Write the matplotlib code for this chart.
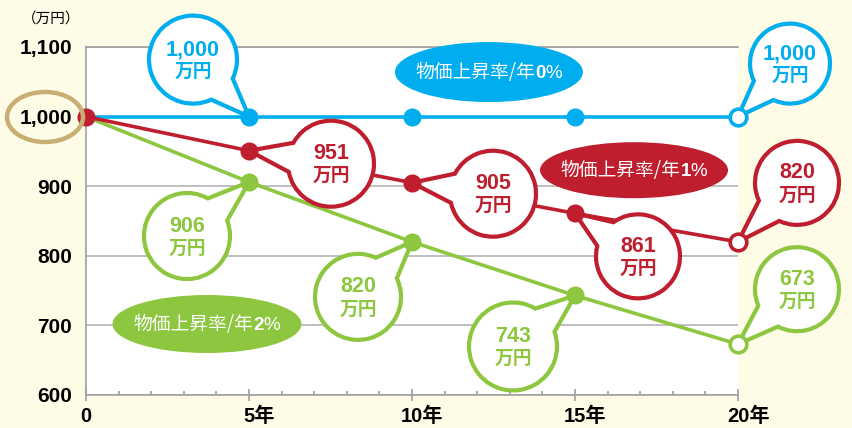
import numpy as np
import matplotlib
matplotlib.use("Agg")
import matplotlib.pyplot as plt
from matplotlib.path import Path
from matplotlib.patches import PathPatch, Ellipse
import matplotlib.transforms as mtransforms
from matplotlib.offsetbox import TextArea, HPacker, AnnotationBbox

# ---------------- data ----------------
years = [0, 5, 10, 15, 20]
xtick_labels = ["0", "5年", "10年", "15年", "20年"]
yticks = [600, 700, 800, 900, 1000, 1100]
ytick_labels = ["600", "700", "800", "900", "1,000", "1,100"]
rate0 = [1000, 1000, 1000, 1000, 1000]
rate1 = [1000, 951, 905, 861, 820]
rate2 = [1000, 906, 820, 743, 673]
label0 = ["物価上昇率/年", "0", "%"]
label1 = ["物価上昇率/年", "1", "%"]
label2 = ["物価上昇率/年", "2", "%"]
callout_text0 = {5: "1,000", 20: "1,000"}
callout_text1 = {5: "951", 10: "905", 15: "861", 20: "820"}
callout_text2 = {5: "906", 10: "820", 15: "743", 20: "673"}
unit = "万円"

# ---------------- style ----------------
BG = "#fefce6"
BLUE = "#00aeef"
RED = "#be1e2d"
GREEN = "#8dc63f"
TAN = "#c9ae73"
GRAY = "#a0a0a0"
FAM = ["Liberation Sans", "Noto Sans CJK JP", "DejaVu Sans"]
CJK = ["Noto Sans CJK JP", "DejaVu Sans"]
plt.rcParams["font.family"] = FAM

W, H = 852, 428
fig = plt.figure(figsize=(W / 100, H / 100), dpi=100, facecolor=BG)
ax = fig.add_axes([86 / W, 33 / H, 652 / W, 348 / H])
ax.set_facecolor("white")
ax.set_xlim(0, 20)
ax.set_ylim(600, 1100)

ax.spines["right"].set_visible(False)
for s in ["left", "bottom", "top"]:
    ax.spines[s].set_color(GRAY)
    ax.spines[s].set_linewidth(1.2)

ax.set_yticks(yticks)
ax.set_yticklabels(ytick_labels, fontsize=15, fontweight="bold")
ax.tick_params(axis="y", length=0, pad=10)
ax.set_xticks(years)
ax.set_xticklabels(xtick_labels, fontsize=14.5, fontweight="bold")
ax.set_xticks([y for y in range(1, 20) if y % 5], minor=True)
ax.tick_params(axis="x", which="major", direction="inout", length=8, width=1.2, color=GRAY, pad=4.5)
ax.tick_params(axis="x", which="minor", direction="in", length=3, width=1.2, color=GRAY)
for i, lab in enumerate(ax.get_xticklabels()):
    if i > 0:
        lab.set_transform(lab.get_transform() + mtransforms.ScaledTranslation(0.10, 0, fig.dpi_scale_trans))
ax.yaxis.grid(True, color="#b4b4b4", lw=1.2)
ax.set_axisbelow(True)

# ---------------- lines ----------------
series = [(rate0, BLUE), (rate2, GREEN), (rate1, RED)]
for vals, c in series:
    ax.plot(years, vals, color=c, lw=2.6, zorder=3, clip_on=False)

# ---------------- label ellipses ----------------
px_x = 652 / 20.0
px_y = 348 / 500.0


def label_ellipse(xc, yc, w, h, parts, color):
    e = Ellipse((xc, yc), w / px_x, h / px_y, facecolor=color, edgecolor="none", zorder=4, clip_on=False)
    ax.add_patch(e)
    kids = [
        TextArea(parts[0], textprops=dict(color="white", fontsize=13.5, family=CJK)),
        TextArea(parts[1], textprops=dict(color="white", fontsize=13.5, family=FAM, fontweight="bold")),
        TextArea(parts[2], textprops=dict(color="white", fontsize=13.5, family=FAM)),
    ]
    pack = HPacker(children=kids, pad=0, sep=0, align="baseline")
    ab = AnnotationBbox(pack, (xc, yc), frameon=False, box_alignment=(0.5, 0.5), zorder=5,
                        annotation_clip=False)
    ax.add_artist(ab)


label_ellipse(12.36, 1064, 188, 60, label0, BLUE)
label_ellipse(16.81, 923, 188, 56, label1, RED)
label_ellipse(3.71, 702, 189, 58, label2, GREEN)


# ---------------- callouts ----------------
def callout(x, y, dx, dy, r, color, num, spread=20):
    theta = np.degrees(np.arctan2(-dy, -dx))
    arc = Path.arc(theta + spread, theta - spread + 360)
    verts = list(arc.vertices * r + np.array([dx, dy]))
    codes = list(arc.codes)
    verts += [(0, 0), (0, 0)]
    codes += [Path.LINETO, Path.CLOSEPOLY]
    verts = np.array(verts) / 100.0
    path = Path(verts, codes)
    trans = fig.dpi_scale_trans + mtransforms.ScaledTranslation(x, y, ax.transData)
    ax.add_patch(PathPatch(path, transform=trans, facecolor="white", edgecolor=color,
                           lw=3.0, zorder=6, clip_on=False, joinstyle="miter"))
    ax.annotate(num, (x, y), xytext=(dx * 0.72, (dy + 10) * 0.72), textcoords="offset points",
                ha="center", va="center", fontsize=15.5, fontweight="bold", color=color,
                zorder=7, annotation_clip=False)
    ax.annotate(unit, (x, y), xytext=(dx * 0.72, (dy - 12) * 0.72), textcoords="offset points",
                ha="center", va="center", fontsize=13.5, fontweight="bold", color=color,
                family=CJK, zorder=7, annotation_clip=False)


geom0 = {5: (-56, 57, 44), 20: (52, 53, 40)}
geom1 = {5: (82, -13, 43), 10: (81, -11, 43), 15: (63, -43, 42), 20: (59, 59, 42)}
geom2 = {5: (-62, -54, 43), 10: (-54, -55, 43), 15: (-62, -51, 44), 20: (59, 55, 42)}

for vals, c, texts, geom in [(rate0, BLUE, callout_text0, geom0),
                             (rate1, RED, callout_text1, geom1),
                             (rate2, GREEN, callout_text2, geom2)]:
    for yr, t in texts.items():
        i = years.index(yr)
        dx, dy, r = geom[yr]
        callout(years[i], vals[i], dx, dy, r, c, t)

# ---------------- markers ----------------
for vals, c in series:
    ax.plot(years[1:4], vals[1:4], "o", color=c, ms=12, zorder=8, clip_on=False)
    ax.plot(years[4:], vals[4:], "o", mfc="white", mec=c, mew=2.6, ms=12, zorder=8, clip_on=False)
ax.plot(years[:1], rate1[:1], "o", color=RED, ms=12, zorder=9, clip_on=False)

# ---------------- y-label highlight & unit ----------------
fig.patches.append(Ellipse((45 / W, 1 - 117 / H), 76 / W, 50 / H, transform=fig.transFigure,
                           facecolor="none", edgecolor=TAN, lw=3.2, zorder=10))
fig.text(51 / W, 1 - 19 / H, "（万円）", ha="center", va="center", fontsize=10.5, family=CJK)

fig.savefig("out.png", dpi=100, facecolor=BG)
